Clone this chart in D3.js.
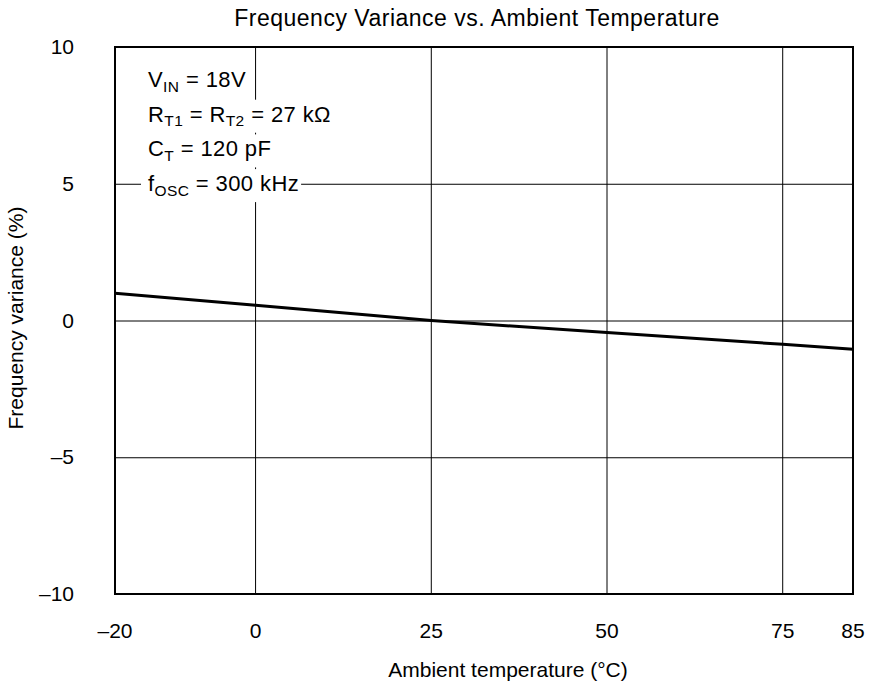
<!DOCTYPE html>
<html><head><meta charset="utf-8">
<script src="https://cdn.jsdelivr.net/npm/d3@7"></script>
<style>body{margin:0;background:#fff;} svg{display:block;font-family:"Liberation Sans",Arial,sans-serif;}</style>
</head><body>
<script>
const temps = [-20, 0, 25, 50, 75, 85];
const variance = [1.0, 0.56, 0, -0.44, -0.87, -1.05];
const xTicks = [-20, 0, 25, 50, 75, 85];
const yTicks = [-10, -5, 0, 5, 10];
const title = "Frequency Variance vs. Ambient Temperature";
const xTitle = "Ambient temperature (\u00B0C)";
const yTitle = "Frequency variance (%)";
const notes = [
  [["V",0],["IN",1],[" = 18V",0]],
  [["R",0],["T1",1],[" = R",0],["T2",1],[" = 27 k\u03A9",0]],
  [["C",0],["T",1],[" = 120 pF",0]],
  [["f",0],["OSC",1],[" = 300 kHz",0]]
];
const fmt = v => (v < 0 ? "\u2013" + Math.abs(v) : String(v));

const W = 873, H = 686;
const m = {left:115, right:853, top:47, bottom:594};
const svg = d3.select("body").append("svg").attr("width", W).attr("height", H);
const x = d3.scaleLinear().domain([-20, 85]).range([m.left, m.right]);
const y = d3.scaleLinear().domain([-10, 10]).range([m.bottom, m.top]);

// grid
const g = svg.append("g");
g.selectAll("line.v").data(xTicks.filter(d => d > -20 && d < 85)).join("line")
  .attr("x1", d => x(d)).attr("x2", d => x(d)).attr("y1", m.top).attr("y2", m.bottom)
  .attr("stroke", "#000").attr("stroke-width", 1);
g.selectAll("line.h").data(yTicks.filter(d => d > -10 && d < 10)).join("line")
  .attr("y1", d => y(d) + 0.5).attr("y2", d => y(d) + 0.5).attr("x1", m.left).attr("x2", m.right)
  .attr("stroke", "#000").attr("stroke-width", 1);

// data line
const pts = temps.map((t, i) => [t, variance[i]]);
svg.append("path").datum(pts)
  .attr("d", d3.line().x(d => x(d[0])).y(d => y(d[1])))
  .attr("fill", "none").attr("stroke", "#000").attr("stroke-width", 3);

// annotations
const ag = svg.append("g");
notes.forEach((segs, i) => {
  const base = 87 + i * 34.7;
  const grp = ag.append("g");
  const rect = grp.append("rect").attr("fill", "#fff");
  const t = grp.append("text").attr("x", 148).attr("y", base).attr("font-size", 22)
    .attr("letter-spacing", 0.4).attr("fill", "#000");
  let prevSub = false;
  segs.forEach(([s, sub]) => {
    const ts = t.append("tspan").text(s);
    if (sub) { ts.attr("font-size", 15.5).attr("dy", prevSub ? 0 : 4.5); }
    else { ts.attr("dy", prevSub ? -4.5 : 0); }
    prevSub = !!sub;
  });
  const bb = t.node().getBBox();
  rect.attr("x", bb.x - 7).attr("y", base - 22).attr("width", bb.width + 9).attr("height", 33);
});

// border
svg.append("rect").attr("x", m.left).attr("y", m.top).attr("width", m.right - m.left).attr("height", m.bottom - m.top)
  .attr("fill", "none").attr("stroke", "#000").attr("stroke-width", 2);

// tick labels
svg.selectAll("text.xt").data(xTicks).join("text")
  .attr("x", d => x(d)).attr("y", 638).attr("text-anchor", "middle").attr("font-size", 21).text(fmt);
svg.selectAll("text.yt").data(yTicks).join("text")
  .attr("x", 74).attr("y", d => y(d) + 7).attr("text-anchor", "end").attr("font-size", 21).text(fmt);

// titles
svg.append("text").attr("x", 477).attr("y", 26).attr("text-anchor", "middle").attr("font-size", 23)
  .attr("letter-spacing", 0.5).text(title);
svg.append("text").attr("x", 508).attr("y", 677).attr("text-anchor", "middle").attr("font-size", 21).text(xTitle);
svg.append("text").attr("transform", "translate(23,318) rotate(-90)").attr("text-anchor", "middle").attr("font-size", 21).text(yTitle);
</script>
</body></html>
